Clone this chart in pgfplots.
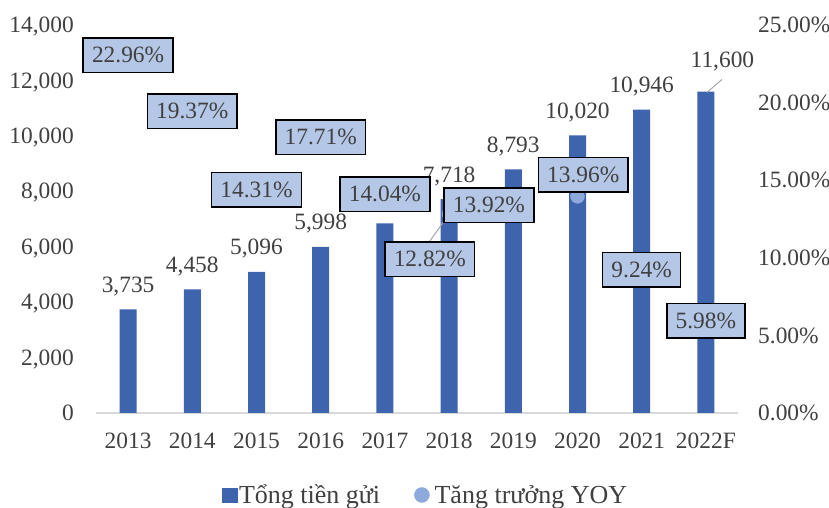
\documentclass[border=0pt]{standalone}
\usepackage{fontspec}
\setmainfont{Liberation Serif}
\usepackage{pgfplots}
\pgfplotsset{compat=1.18}

\definecolor{barblue}{HTML}{3D64AD}
\definecolor{dotblue}{HTML}{8EA9DB}
\definecolor{boxblue}{HTML}{B4C7E7}
\definecolor{txt}{HTML}{404040}
\definecolor{axgray}{HTML}{D9D9D9}
\newcommand\cf{\fontsize{23.4}{28}\selectfont}

\pgfplotsset{
  base/.style={
    scale only axis, width=642pt, height=388pt,
    at={(0,0)}, anchor=south west,
    xmin=-0.5, xmax=9.5, clip=false,
    /pgf/number format/assume math mode=true,
    tick label style={font=\cf, text=txt, inner sep=0pt},
    major tick length=0pt,
  },
}
\tikzset{lbl/.style={draw=black, line width=1.5pt, fill=boxblue, font=\cf, text=txt,
  inner xsep=8.8pt, inner ysep=0pt, minimum height=34.5pt}}

\begin{document}
\begin{tikzpicture}
\useasboundingbox (-96pt,-95pt) rectangle (733pt,413pt);
% tong tien gui
\begin{axis}[base,
  ybar, bar width=17pt,
  ymin=0, ymax=14000, ytick={0,2000,...,14000}, scaled y ticks=false,
  yticklabel style={anchor=base east, xshift=-22pt, yshift=-7.7pt, /pgf/number format/1000 sep={,}},
  xtick={0,...,9}, xticklabels={2013,2014,2015,2016,2017,2018,2019,2020,2021,2022F},
  xticklabel style={anchor=north, yshift=-20pt},
  axis x line*=bottom, axis y line*=left,
  x axis line style={axgray, line width=1.5pt, -}, y axis line style={draw=none},
  point meta=explicit symbolic,
  nodes near coords,
  every node near coord/.append style={font=\cf, text=txt, inner sep=0pt, yshift=13pt},
]
% 2017 label is hidden behind the 14.04% box in the original
\addplot[fill=barblue, draw=none] coordinates {
  (0,3735) [3,735]
  (1,4458) [4,458]
  (2,5096) [5,096]
  (3,5998) [5,998]
  (4,6840) []
  (5,7718) [7,718]
  (6,8793) [8,793]
  (7,10020) [10,020]
  (8,10946) [10,946]
  (9,11600) []
};
\draw[gray!70, line width=1pt] ([xshift=1pt,yshift=-1pt]axis cs:9,11600) -- ++(15pt,13pt);
\node[font=\cf, text=txt, anchor=base, xshift=16.5pt, yshift=23.8pt] at (axis cs:9,11600) {11,600};
\end{axis}
% tang truong YOY
\begin{axis}[base,
  ymin=0, ymax=25, ytick={0,5,...,25}, xtick=\empty,
  axis x line=none, axis y line*=right, y axis line style={draw=none},
  yticklabel={\pgfmathprintnumber[fixed,fixed zerofill,precision=2]{\tick}\%},
  yticklabel style={anchor=base west, xshift=20pt, yshift=-7.7pt},
  legend style={at={(0.513,-0.2113)}, anchor=center, draw=none, fill=none,
    font=\fontsize{26}{30}\selectfont, text=txt, legend columns=2, nodes={inner sep=2pt},
    /tikz/every even column/.append style={column sep=32pt}},
  legend cell align=left,
]
\addlegendimage{legend image code/.code={\fill[barblue] (0pt,-7pt) rectangle (15pt,7pt);}}
\addlegendentry{Tổng tiền gửi}
\addplot[only marks, mark=*, mark size=7pt, dotblue,
  legend image code/.code={\fill[dotblue] (7.5pt,0pt) circle (7.5pt); \path (18pt,0pt);}] coordinates {
  (0,22.96) (1,19.37) (2,14.31) (3,17.71) (4,14.04)
  (5,12.82) (6,13.92) (7,13.96) (8,9.24) (9,5.98)
};
\addlegendentry{Tăng trưởng YOY}
\end{axis}
% data labels on top of the markers
\begin{axis}[base, hide axis, ymin=0, ymax=25]
\node[lbl] at (axis cs:0,23.05) {22.96\%};
\node[lbl] at (axis cs:1,19.45) {19.37\%};
\node[lbl] at (axis cs:2,14.37) {14.31\%};
\node[lbl] at (axis cs:3,17.78) {17.71\%};
\node[lbl] at (axis cs:4,14.10) {14.04\%};
\node[lbl] (b5) at (axis cs:4.70,9.92) {12.82\%};
\draw[gray!70, line width=1pt] (b5.north) -- (axis cs:5,12.82);
\node[lbl] at (axis cs:5.62,13.40) {13.92\%};
\node[lbl] at (axis cs:7.09,15.34) {13.96\%};
\node[lbl] at (axis cs:8,9.22) {9.24\%};
\node[lbl] at (axis cs:9,5.95) {5.98\%};
\end{axis}
\end{tikzpicture}
\end{document}
